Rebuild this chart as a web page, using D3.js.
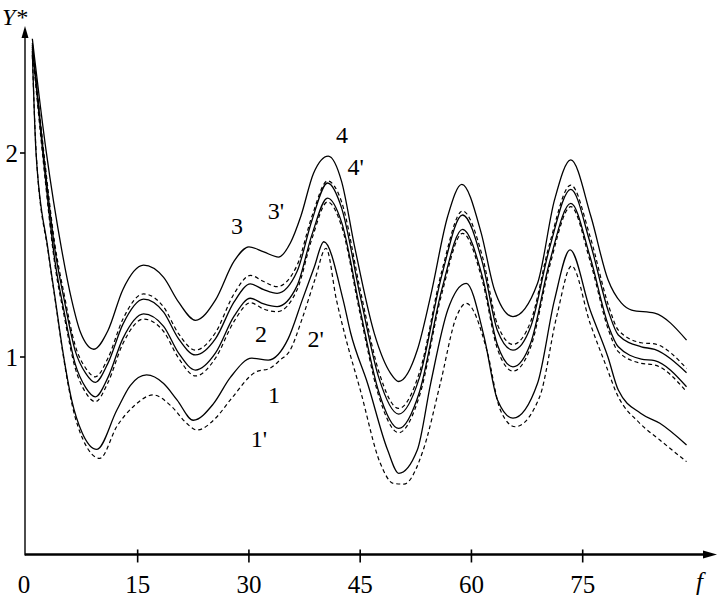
<!DOCTYPE html>
<html><head><meta charset="utf-8">
<script src="https://cdn.jsdelivr.net/npm/d3@7"></script>
<style>body{margin:0;background:#fff}svg{display:block}</style>
</head><body>
<svg id="c" width="717" height="604"></svg>
<script>
// ---- data ----
const xTicks = [0, 15, 30, 45, 60, 75];
const yTicks = [1, 2];
const xLabel = "f";
const yLabel = "Y*";

// top solid curve
const curveTop = [[0.8,2.56],[2.64,2.015],[4.76,1.525],[6.1,1.28],[7.3,1.12],[9.1,1.038],[11,1.13],[13,1.33],[15.8,1.45],[18.5,1.39],[20.5,1.27],[22.8,1.18],[25.5,1.28],[28,1.47],[30,1.54],[32,1.515],[34,1.49],[35.6,1.56],[37,1.69],[38.7,1.90],[40.7,1.985],[42.5,1.86],[44.2,1.55],[46.9,1.116],[49.1,0.92],[50.2,0.88],[52.7,1.034],[54.5,1.30],[56.8,1.69],[58.7,1.846],[61.3,1.61],[63.1,1.33],[65.6,1.198],[68.9,1.36],[71.2,1.77],[73.4,1.966],[76.1,1.69],[78.4,1.38],[80.2,1.265],[81.6,1.23],[84.7,1.215],[89,1.083]];

// middle group (shared f grid)
const groupF = [0.8,2.3,3.85,5.1,6.55,8,9.3,11,13,15.8,18.5,20.5,22.8,25.5,28,30.2,32,33.8,36.5,38.5,40.6,42.5,45,47.5,50.2,53,56,58.8,61.5,63.5,65.6,68,70.5,73.4,76,78.5,79.8,82.9,84.7,89];
const groupUpperDashed = [2.54,2.02,1.55,1.305,1.06,0.945,0.903,0.995,1.185,1.309,1.245,1.115,1.034,1.12,1.31,1.40,1.37,1.345,1.45,1.69,1.863,1.76,1.33,0.93,0.748,0.925,1.42,1.716,1.49,1.16,1.062,1.175,1.55,1.843,1.59,1.25,1.132,1.07,1.064,0.944];
const groupUpperSolid  = [2.53,2.0,1.525,1.28,1.034,0.92,0.876,0.97,1.16,1.284,1.22,1.09,1.01,1.09,1.27,1.358,1.33,1.312,1.42,1.67,1.853,1.73,1.30,0.90,0.72,0.90,1.40,1.696,1.46,1.13,1.034,1.15,1.53,1.822,1.56,1.22,1.108,1.05,1.037,0.923];
const groupLowerSolid  = [2.52,1.97,1.47,1.22,0.97,0.85,0.805,0.90,1.09,1.211,1.15,1.02,0.936,1.02,1.20,1.288,1.26,1.247,1.35,1.60,1.779,1.66,1.23,0.83,0.65,0.83,1.33,1.626,1.39,1.06,0.952,1.07,1.46,1.753,1.49,1.15,1.05,0.99,0.982,0.854];
const groupLowerDashed = [2.51,1.95,1.45,1.20,0.95,0.825,0.781,0.875,1.065,1.186,1.125,0.995,0.907,0.995,1.175,1.266,1.235,1.222,1.33,1.58,1.76,1.64,1.21,0.81,0.629,0.81,1.31,1.606,1.37,1.04,0.931,1.05,1.44,1.737,1.47,1.13,1.026,0.969,0.961,0.83];

// bottom pair
const curveBottomSolid = [[0.8,2.50],[1.3,2.0],[2.9,1.53],[3.9,1.28],[4.9,1.03],[6.1,0.79],[7.5,0.63],[9.5,0.547],[12.2,0.74],[14,0.86],[16.2,0.912],[18.5,0.87],[20.3,0.79],[22.5,0.69],[25.2,0.77],[27.5,0.90],[30.4,0.994],[32.6,0.985],[35.3,1.09],[37.2,1.28],[38.8,1.44],[40.1,1.565],[42.7,1.28],[43.7,1.12],[46,0.87],[48.7,0.544],[50.2,0.43],[52.7,0.544],[54.5,0.87],[56.8,1.23],[59.3,1.361],[61.7,1.10],[63.5,0.79],[65.6,0.70],[68.9,0.87],[71.2,1.28],[73.3,1.525],[76,1.23],[78.4,1.0],[79.8,0.838],[82.8,0.724],[85.4,0.675],[89,0.569]];
const curveBottomDashed = [[0.8,2.48],[1.35,1.98],[3.0,1.50],[4.0,1.25],[5.0,1.00],[6.2,0.76],[7.7,0.59],[9.9,0.503],[12.2,0.66],[14.5,0.76],[17.1,0.814],[19.5,0.76],[21.6,0.675],[23.0,0.642],[25.5,0.70],[27.5,0.79],[31.0,0.928],[32.8,0.944],[34.2,0.985],[35.5,1.03],[37.2,1.19],[38.9,1.38],[40.4,1.533],[41.8,1.28],[43,1.10],[45,0.84],[47.7,0.48],[49.5,0.38],[50.9,0.377],[53.5,0.544],[55.8,0.87],[58,1.2],[59.3,1.263],[62.1,1.03],[63.9,0.74],[65.9,0.658],[69.2,0.805],[71.5,1.20],[73.5,1.446],[76,1.165],[78.2,0.952],[79.6,0.82],[82.7,0.675],[85.4,0.593],[89,0.487]];

// curve labels [text, f, value]
const curveLabels = [["4",42.55,2.088],["4'",44.4,1.931],["3",28.4,1.642],["3'",33.65,1.716],["2",31.63,1.113],["2'",39.0,1.088],["1",33.38,0.814],["1'",31.36,0.598]];

// ---- drawing ----
const svg = d3.select("#c");
const x = d3.scaleLinear().domain([0, 75]).range([26.4, 582.7]);
const y = d3.scaleLinear().domain([0, 2]).range([561, 153]);
const axisY = y(0.032);
const axisX = 25;
const font = "'Liberation Serif','Times New Roman',serif";

const line = d3.line().x(d => x(d[0])).y(d => y(d[1])).curve(d3.curveMonotoneX);

const series = [
  {pts: curveTop, dash: null},
  {pts: groupF.map((f,i)=>[f,groupUpperDashed[i]]), dash: "4,3"},
  {pts: groupF.map((f,i)=>[f,groupUpperSolid[i]]), dash: null},
  {pts: groupF.map((f,i)=>[f,groupLowerSolid[i]]), dash: null},
  {pts: groupF.map((f,i)=>[f,groupLowerDashed[i]]), dash: "4,3"},
  {pts: curveBottomSolid, dash: null},
  {pts: curveBottomDashed, dash: "4,3"}
];
svg.append("g").selectAll("path").data(series).join("path")
  .attr("d", d => line(d.pts))
  .attr("fill", "none").attr("stroke", "#000")
  .attr("stroke-width", d => d.dash ? 1.2 : 1.3)
  .attr("stroke-dasharray", d => d.dash);

// axes
svg.append("line").attr("x1", axisX).attr("x2", 708).attr("y1", axisY).attr("y2", axisY)
  .attr("stroke", "#000").attr("stroke-width", 2.5);
svg.append("path").attr("d", `M717,${axisY} L703,${axisY-4} L703,${axisY+4} Z`).attr("fill", "#000");
svg.append("line").attr("x1", axisX).attr("x2", axisX).attr("y1", axisY+1).attr("y2", 34)
  .attr("stroke", "#000").attr("stroke-width", 1.4);
svg.append("path").attr("d", `M${axisX},26 L${axisX-3.5},38 L${axisX+3.5},38 Z`).attr("fill", "#000");

// x ticks
const xt = svg.append("g");
xt.selectAll("line").data(xTicks.filter(d => d > 0)).join("line")
  .attr("x1", d => x(d)).attr("x2", d => x(d)).attr("y1", axisY - 5).attr("y2", axisY + 8)
  .attr("stroke", "#000").attr("stroke-width", 1.6);
xt.selectAll("text").data(xTicks).join("text")
  .attr("x", d => d === 0 ? 24 : x(d)).attr("y", 593)
  .attr("text-anchor", "middle").attr("font-family", font).attr("font-size", 25)
  .text(d => d);

// y ticks
const yt = svg.append("g");
yt.selectAll("line").data(yTicks).join("line")
  .attr("x1", axisX - 5).attr("x2", axisX).attr("y1", d => y(d)).attr("y2", d => y(d))
  .attr("stroke", "#000").attr("stroke-width", 1.6);
yt.selectAll("text").data(yTicks).join("text")
  .attr("x", 18).attr("y", d => y(d)).attr("dy", "0.35em")
  .attr("text-anchor", "end").attr("font-family", font).attr("font-size", 25)
  .text(d => d);

// axis titles
svg.append("text").attr("x", 2).attr("y", 25).attr("font-family", font).attr("font-style", "italic")
  .attr("font-size", 24).text(yLabel);
svg.append("text").attr("x", 696).attr("y", 590).attr("font-family", font).attr("font-style", "italic")
  .attr("font-size", 25).text(xLabel);

// curve labels
svg.append("g").selectAll("text").data(curveLabels).join("text")
  .attr("x", d => x(d[1])).attr("y", d => y(d[2])).attr("dy", "0.35em")
  .attr("text-anchor", "middle").attr("font-family", font).attr("font-size", 24)
  .text(d => d[0]);
</script>
</body></html>
